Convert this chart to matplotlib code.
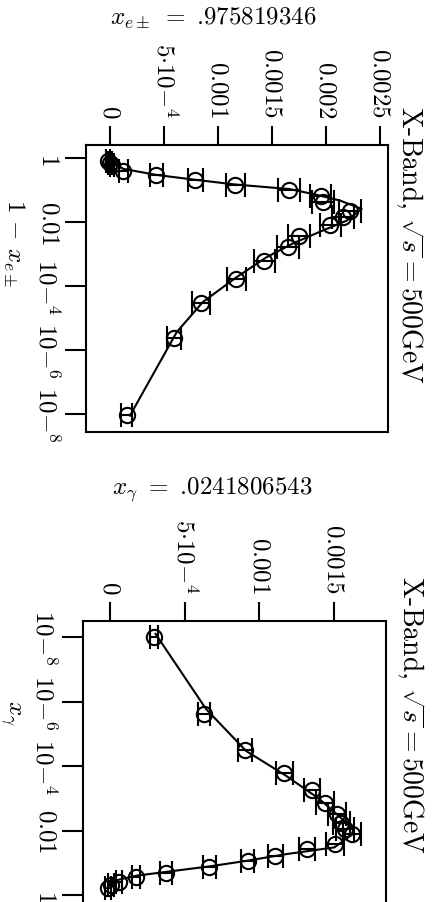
import matplotlib
matplotlib.use("Agg")
import matplotlib.pyplot as plt
import numpy as np
from matplotlib.ticker import FixedLocator, FixedFormatter, NullLocator

plt.rcParams['mathtext.fontset'] = 'cm'
plt.rcParams['font.family'] = ['cmr10', 'DejaVu Serif']
plt.rcParams['axes.formatter.use_mathtext'] = True

# ---------------- Panel 1: x_e = .975819346 ----------------
p1_log_one_minus_x = [-0.10, -0.17, -0.23, -0.40, -0.53, -0.68, -0.83, -0.99, -1.18, -1.38,
                      -1.65, -1.85, -2.09, -2.43, -2.79, -3.23, -3.78, -4.53, -5.63, -8.02]
p1_value = [-0.00002, 0.0, 0.00002, 0.000123, 0.00043, 0.00079, 0.00116, 0.00166, 0.00195, 0.00197,
            0.00222, 0.00216, 0.00204, 0.00175, 0.00165, 0.00143, 0.00117, 0.00084, 0.00059, 0.000155]
p1_err = [0.00002, 0.00002, 0.00002, 0.00004, 0.00006, 0.00007, 0.00009, 0.0001, 0.0001, 0.0001,
          0.0001, 0.0001, 0.0001, 0.0001, 0.0001, 0.0001, 0.00009, 0.000085, 0.000065, 0.00005]
p1_curve_log = [-0.08, -0.34, -0.53, -0.68, -0.83, -0.97, -1.125, -1.33, -1.59, -1.96,
                -2.31, -2.66, -3.10, -3.73, -4.5, -5.44, -8.05]
p1_curve_val = [0.0, 0.000123, 0.000432, 0.000787, 0.001164, 0.00166, 0.00188, 0.00213, 0.00233, 0.00219,
                0.00194, 0.0017, 0.00145, 0.00117, 0.00086, 0.000618, 0.000185]
p1_value_ticks = [0, 0.0005, 0.001, 0.0015, 0.002, 0.0025]
p1_value_labels = [r'$0$', r'$5{\cdot}10{-}^{4}$', r'$0.001$', r'$0.0015$', r'$0.002$', r'$0.0025$']
p1_log_ticks = [1, 1e-2, 1e-4, 1e-6, 1e-8]
p1_log_labels = [r'$1$', r'$0.01$', r'$10{-}^{4}$', r'$10{-}^{6}$', r'$10{-}^{8}$']

# ---------------- Panel 2: x_gamma = .0241806543 ----------------
p2_log_x = [-7.99, -5.61, -4.50, -3.78, -3.27, -2.85, -2.51, -2.25, -2.05, -1.89,
            -1.58, -1.43, -1.22, -1.06, -0.86, -0.70, -0.56, -0.42, -0.31, -0.22]
p2_value = [0.000297, 0.000632, 0.000906, 0.001167, 0.001353, 0.001442, 0.00152, 0.00155, 0.001574, 0.001618,
            0.001505, 0.001319, 0.001107, 0.000922, 0.000665, 0.000375, 0.000174, 0.000062, 0.000007, -0.000015]
p2_err = [0.000027, 0.00004, 0.000047, 0.000056, 0.000056, 0.00006, 0.00006, 0.00006, 0.00006, 0.00006,
          0.00006, 0.000056, 0.00005, 0.000045, 0.000045, 0.00004, 0.00003, 0.00002, 0.00002, 0.00002]
p2_curve_log = [-8.1, -5.77, -4.47, -3.70, -2.98, -2.42, -2.05, -1.92, -1.48, -1.27,
                -1.06, -0.89, -0.72, -0.60, -0.41, -0.25]
p2_curve_val = [0.000305, 0.000643, 0.000911, 0.001179, 0.001402, 0.00154, 0.001625, 0.001634, 0.001502, 0.001179,
                0.000911, 0.000665, 0.000375, 0.000174, -0.000005, -0.00001]
p2_value_ticks = [0, 0.0005, 0.001, 0.0015]
p2_value_labels = [r'$0$', r'$5{\cdot}10{-}^{4}$', r'$0.001$', r'$0.0015$']
p2_log_ticks = [1e-8, 1e-6, 1e-4, 1e-2, 1]
p2_log_labels = [r'$10{-}^{8}$', r'$10{-}^{6}$', r'$10{-}^{4}$', r'$0.01$', r'$1$']

title_text = r'X-Band, $\sqrt{s} = 500$GeV'

W, H = 434, 903
fig = plt.figure(figsize=(W / 100, H / 100), dpi=100)

FS = 18


def px_axes(left, right, top, bottom):
    return fig.add_axes([left / W, (H - bottom) / H, (right - left) / W, (bottom - top) / H])


def style(ax, vticks, vlabels, lticks, llabels):
    ax.set_yscale('log')
    ax.xaxis.set_major_locator(FixedLocator(vticks))
    ax.xaxis.set_major_formatter(FixedFormatter(vlabels))
    ax.yaxis.set_major_locator(FixedLocator(lticks))
    ax.yaxis.set_major_formatter(FixedFormatter(llabels))
    ax.yaxis.set_minor_locator(NullLocator())
    ax.xaxis.set_minor_locator(NullLocator())
    ax.tick_params(axis='x', which='major', top=True, bottom=False, labeltop=True, labelbottom=False,
                   direction='out', length=14, width=1.5, labelrotation=-90, labelsize=FS, pad=6)
    ax.tick_params(axis='y', which='major', left=True, right=False, direction='out', length=15,
                   width=1.5, labelrotation=-90, labelsize=FS, pad=4)
    for lab in ax.get_yticklabels():
        lab.set_va('center')
    for s in ax.spines.values():
        s.set_linewidth(1.5)


# Panel 1
ax1 = px_axes(86, 388, 146, 433)
ax1.errorbar(p1_value, 10 ** np.array(p1_log_one_minus_x), xerr=p1_err, fmt='o', mfc='none', mec='k',
             mew=1.5, ms=11, ecolor='k', elinewidth=1.5, capsize=8.5, capthick=1.5)
ax1.plot(p1_curve_val, 10 ** np.array(p1_curve_log), 'k-', lw=1.5)
ax1.set_xlim(-0.000222, 0.002574)
ax1.set_ylim(10 ** -8.5625, 10 ** 0.406)
style(ax1, p1_value_ticks, p1_value_labels, p1_log_ticks, p1_log_labels)

# Panel 2
ax2 = px_axes(83, 386, 622, 909)
ax2.errorbar(p2_value, 10 ** np.array(p2_log_x), xerr=p2_err, fmt='o', mfc='none', mec='k',
             mew=1.5, ms=11, ecolor='k', elinewidth=1.5, capsize=8.5, capthick=1.5)
ax2.plot(p2_curve_val, 10 ** np.array(p2_curve_log), 'k-', lw=1.5)
ax2.set_xlim(-0.000181, 0.001848)
ax2.set_ylim(10 ** 0.4, 10 ** -8.5)
style(ax2, p2_value_ticks, p2_value_labels, p2_log_ticks, p2_log_labels)

# Texts
fig.text(213 / W, 1 - 18 / H, r'$x_{e\pm}\ =\ $.975819346', ha='center', va='center', fontsize=FS)
fig.text(212 / W, 1 - 490 / H, r'$x_{\gamma}\ =\ $.0241806543', ha='center', va='center', fontsize=FS)
fig.text(410 / W, 1 - 245 / H, title_text, ha='center', va='center', rotation=-90, fontsize=20)
fig.text(411 / W, 1 - 715 / H, title_text, ha='center', va='center', rotation=-90, fontsize=20)
fig.text(14 / W, 1 - 243 / H, r'$1\,-\,x_{e\pm}$', ha='center', va='center', rotation=-90, fontsize=FS)
fig.text(10 / W, 1 - 713 / H, r'$x_{\gamma}$', ha='center', va='center', rotation=-90, fontsize=FS)

fig.savefig('out.png', dpi=100)
